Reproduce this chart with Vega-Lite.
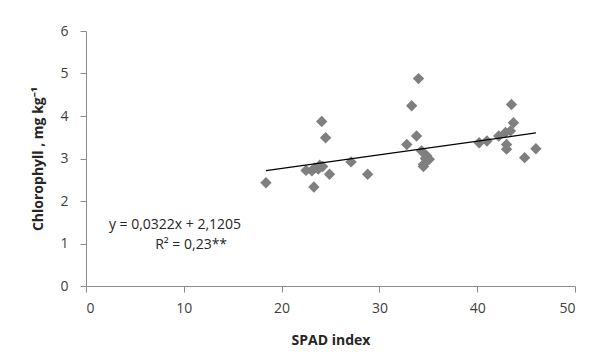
{
  "$schema": "https://vega.github.io/schema/vega-lite/v6.json",
  "width": 489,
  "height": 255,
  "autosize": {"type": "none"},
  "padding": {"left": 86, "top": 31, "right": 19, "bottom": 72},
  "background": "white",
  "config": {
    "view": {"stroke": null},
    "font": "Open Sans",
    "axis": {
      "grid": false,
      "domainColor": "#8c8c8c",
      "tickColor": "#8c8c8c",
      "tickSize": 6,
      "labelColor": "#404040",
      "labelFont": "Open Sans",
      "labelFontSize": 14,
      "titleFont": "Open Sans",
      "titleFontSize": 14,
      "titleFontWeight": "bold",
      "titleColor": "#262626"
    }
  },
  "datasets": {
    "pts": [
      {"spad": 18.4, "chl": 2.43},
      {"spad": 22.5, "chl": 2.72},
      {"spad": 23.1, "chl": 2.71},
      {"spad": 23.3, "chl": 2.33},
      {"spad": 23.4, "chl": 2.78},
      {"spad": 23.75, "chl": 2.75},
      {"spad": 23.9, "chl": 2.84},
      {"spad": 24.2, "chl": 2.81},
      {"spad": 24.1, "chl": 3.87},
      {"spad": 24.5, "chl": 3.49},
      {"spad": 24.9, "chl": 2.63},
      {"spad": 27.1, "chl": 2.92},
      {"spad": 28.8, "chl": 2.63},
      {"spad": 32.8, "chl": 3.33},
      {"spad": 33.3, "chl": 4.24},
      {"spad": 33.8, "chl": 3.53},
      {"spad": 34.0, "chl": 4.88},
      {"spad": 34.3, "chl": 3.18},
      {"spad": 34.85, "chl": 3.06},
      {"spad": 34.7, "chl": 3.0},
      {"spad": 35.1, "chl": 2.98},
      {"spad": 34.5, "chl": 2.86},
      {"spad": 34.5, "chl": 2.81},
      {"spad": 40.2, "chl": 3.37},
      {"spad": 41.0, "chl": 3.41},
      {"spad": 42.2, "chl": 3.53},
      {"spad": 42.9, "chl": 3.61},
      {"spad": 43.0, "chl": 3.33},
      {"spad": 43.0, "chl": 3.22},
      {"spad": 43.5, "chl": 4.27},
      {"spad": 43.7, "chl": 3.84},
      {"spad": 43.4, "chl": 3.65},
      {"spad": 44.85, "chl": 3.02},
      {"spad": 46.0, "chl": 3.23}
    ],
    "trend": [
      {"spad": 18.4, "chl": 2.713},
      {"spad": 46.0, "chl": 3.602}
    ],
    "labels": [
      {"spad": 9.1, "chl": 1.44, "text": "y = 0,0322x + 2,1205"},
      {"spad": 10.75, "chl": 0.97, "text": "R² = 0,23**"}
    ]
  },
  "layer": [
    {
      "data": {"name": "pts"},
      "mark": {"type": "point", "shape": "diamond", "filled": true, "size": 130, "color": "#7f7f7f", "opacity": 1},
      "encoding": {
        "x": {"field": "spad", "type": "quantitative", "scale": {"domain": [0, 50], "nice": false},
              "axis": {"values": [0, 10, 20, 30, 40, 50], "title": "SPAD index", "titlePadding": 18, "labelPadding": 9}},
        "y": {"field": "chl", "type": "quantitative", "scale": {"domain": [0, 6], "nice": false},
              "axis": {"values": [0, 1, 2, 3, 4, 5, 6], "title": "Chlorophyll , mg kg⁻¹", "titlePadding": 14, "labelPadding": 12}}
      }
    },
    {
      "data": {"name": "trend"},
      "mark": {"type": "line", "color": "#000000", "strokeWidth": 1.3},
      "encoding": {
        "x": {"field": "spad", "type": "quantitative"},
        "y": {"field": "chl", "type": "quantitative"}
      }
    },
    {
      "data": {"name": "labels"},
      "mark": {"type": "text", "fontSize": 14, "font": "Open Sans", "color": "#262626", "align": "center", "baseline": "middle"},
      "encoding": {
        "x": {"field": "spad", "type": "quantitative"},
        "y": {"field": "chl", "type": "quantitative"},
        "text": {"field": "text", "type": "nominal"}
      }
    }
  ]
}
